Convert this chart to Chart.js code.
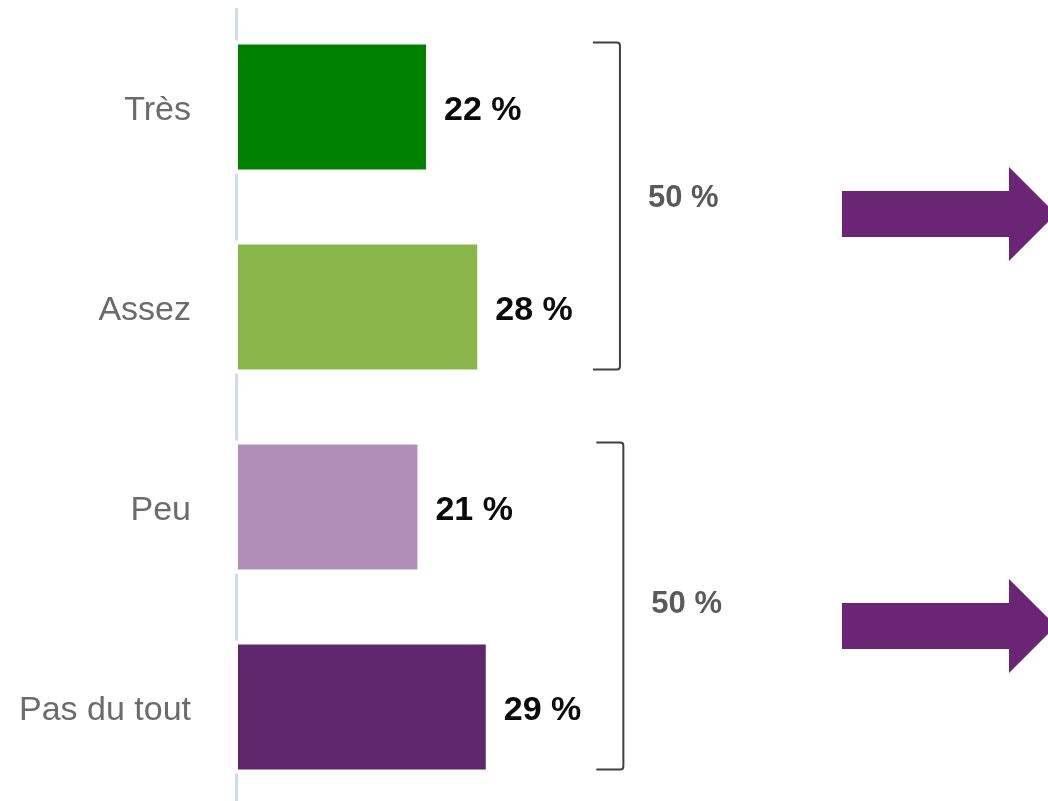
<!DOCTYPE html>
<html>
<head>
<meta charset="utf-8">
<script src="https://cdn.jsdelivr.net/npm/chart.js@4"></script>
<style>
  html, body { margin: 0; padding: 0; background: #fff; overflow: hidden; }
  #wrap { position: relative; width: 1048px; height: 815px; }
</style>
</head>
<body>
<div id="wrap"><canvas id="chart" width="1048" height="815"></canvas></div>
<script>
    // donnees
    var categories = ["Très", "Assez", "Peu", "Pas du tout"];
    var values = [22, 28, 21, 29];
    var barColors = ["#008000", "#88b64b", "#af8fb7", "#5f276b"];
    var groups = [[0, 1], [2, 3]];

    var font = "'Liberation Sans', Arial, sans-serif";

    // ligne d'axe, coupee autour des barres
    var axisLine = {
        id: "axisLine",
        beforeDatasetsDraw: function (chart) {
            var c = chart.ctx, bars = chart.getDatasetMeta(0).data;
            var x = chart.chartArea.left - 1.5;
            var edges = [0];
            bars.forEach(function (b) {
                edges.push(b.y - b.height / 2 - 4, b.y + b.height / 2 + 4);
            });
            edges.push(815);
            c.save();
            c.strokeStyle = "#cfdbee";
            c.lineWidth = 3;
            for (var i = 0; i < edges.length; i += 2) {
                var y1 = Math.max(edges[i], 8), y2 = edges[i + 1];
                if (y2 <= y1) continue;
                c.beginPath();
                c.moveTo(x, y1);
                c.lineTo(x, y2);
                c.stroke();
            }
            c.restore();
        }
    };

    // etiquettes, accolades et fleches
    var extras = {
        id: "extras",
        afterDatasetsDraw: function (chart) {
            var c = chart.ctx, bars = chart.getDatasetMeta(0).data;
            var xs = chart.scales.x;
            c.save();
            c.font = "bold 34px " + font;
            c.fillStyle = "#0a0a0a";
            c.textBaseline = "middle";
            c.textAlign = "left";
            bars.forEach(function (b, i) {
                c.fillText(values[i] + " %", b.x + 18, b.y + 4);
            });

            var bx = [xs.getPixelForValue(44.7), xs.getPixelForValue(45.1)];
            var labelDy = [-8, -2];
            var arrowDy = [8, 20];
            groups.forEach(function (g, k) {
                var top = bars[g[0]].y - bars[g[0]].height / 2 - 2;
                var bot = bars[g[1]].y + bars[g[1]].height / 2;
                var x = bx[k], r = 3;
                c.strokeStyle = "#404040";
                c.lineWidth = 2;
                c.beginPath();
                c.moveTo(x - 27, top);
                c.lineTo(x - r, top);
                c.quadraticCurveTo(x, top, x, top + r);
                c.lineTo(x, bot - r);
                c.quadraticCurveTo(x, bot, x - r, bot);
                c.lineTo(x - 27, bot);
                c.stroke();

                var total = 0;
                g.forEach(function (i) { total += values[i]; });
                var mid = (top + bot) / 2;
                c.font = "bold 31px " + font;
                c.fillStyle = "#5a5a5a";
                c.fillText(total + " %", x + 28, mid + labelDy[k]);

                var ay = mid + arrowDy[k];
                c.fillStyle = "#6a2574";
                c.beginPath();
                c.moveTo(842, ay - 23);
                c.lineTo(1009, ay - 23);
                c.lineTo(1009, ay - 47);
                c.lineTo(1056, ay);
                c.lineTo(1009, ay + 47);
                c.lineTo(1009, ay + 23);
                c.lineTo(842, ay + 23);
                c.closePath();
                c.fill();
            });
            c.restore();
        }
    };

    var ctx = document.getElementById("chart").getContext("2d");

    var chart = new Chart(ctx, {
        type: "bar",
        data: {
            labels: categories,
            datasets: [
                {
                    data: values,
                    backgroundColor: barColors,
                    borderWidth: 0,
                    categoryPercentage: 1,
                    barPercentage: 0.625
                }
            ]
        },
        options: {
            indexAxis: "y",
            responsive: false,
            animation: false,
            devicePixelRatio: 1,
            layout: { padding: { top: 7, bottom: 8, left: 0, right: 0 } },
            plugins: { legend: { display: false }, tooltip: { enabled: false } },
            scales: {
                x: { display: false, min: 0, max: 94.8 },
                y: {
                    grid: { display: false, drawTicks: false },
                    border: { display: false },
                    ticks: {
                        padding: 47,
                        labelOffset: 4,
                        color: "#6b6b6b",
                        font: { family: font, size: 34 }
                    },
                    afterFit: function (s) {
                        s.width = 238;
                        s.paddingTop = 0;
                        s.paddingBottom = 0;
                    }
                }
            }
        },
        plugins: [axisLine, extras]
    });
</script>
</body>
</html>
